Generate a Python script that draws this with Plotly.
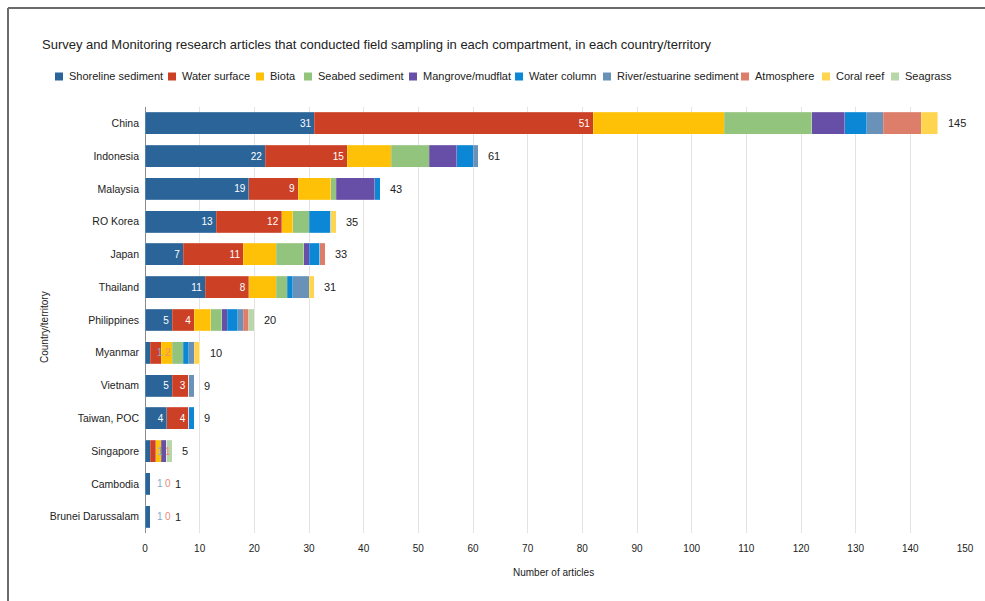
import plotly.graph_objects as go

# ---- data -------------------------------------------------------------
countries = ["China", "Indonesia", "Malaysia", "RO Korea", "Japan", "Thailand",
             "Philippines", "Myanmar", "Vietnam", "Taiwan, POC", "Singapore",
             "Cambodia", "Brunei Darussalam"]

shoreline_sediment = [31, 22, 19, 13, 7, 11, 5, 1, 5, 4, 1, 1, 1]
water_surface      = [51, 15, 9, 12, 11, 8, 4, 2, 3, 4, 1, 0, 0]
biota              = [24, 8, 6, 2, 6, 5, 3, 2, 0, 0, 1, 0, 0]
seabed_sediment    = [16, 7, 1, 3, 5, 2, 2, 2, 0, 0, 0, 0, 0]
mangrove_mudflat   = [6, 5, 7, 0, 1, 0, 1, 0, 0, 0, 1, 0, 0]
water_column       = [4, 3, 1, 4, 2, 1, 2, 1, 0, 1, 0, 0, 0]
river_estuarine    = [3, 1, 0, 0, 0, 3, 1, 1, 1, 0, 0, 0, 0]
atmosphere         = [7, 0, 0, 0, 1, 0, 1, 0, 0, 0, 0, 0, 0]
coral_reef         = [3, 0, 0, 1, 0, 1, 0, 1, 0, 0, 0, 0, 0]
seagrass           = [0, 0, 0, 0, 0, 0, 1, 0, 0, 0, 1, 0, 0]

series_names = ["Shoreline sediment", "Water surface", "Biota", "Seabed sediment",
                "Mangrove/mudflat", "Water column", "River/estuarine sediment",
                "Atmosphere", "Coral reef", "Seagrass"]
series_values = [shoreline_sediment, water_surface, biota, seabed_sediment,
                 mangrove_mudflat, water_column, river_estuarine, atmosphere,
                 coral_reef, seagrass]
x_ticks = list(range(0, 151, 10))

# ---- styling ----------------------------------------------------------
colors = ["#2b6498", "#cc4125", "#ffc107", "#93c47d", "#674ea7",
          "#0b87d6", "#6a92b9", "#dd7e6b", "#ffd54f", "#b6d7a8"]
label_out_colors = ["#7fa9d6", "#ee8b77"]   # labels drawn beside thin segments
FONT = "Liberation Sans, Arial, Helvetica, sans-serif"
TXT = "#222222"

W, H = 985, 601
ML, MR, MT, MB = 145, 20, 107, 68
PW, PH = W - ML - MR, H - MT - MB
XMAX = 150
PX_PER_UNIT = PW / XMAX


def px_x(px):
    return (px - ML) / PW


def px_y(py):
    return (H - MB - py) / PH


fig = go.Figure()

labelled = {0, 1}   # series that carry value labels
outside_rows = {}
for i, (name, vals, col) in enumerate(zip(series_names, series_values, colors)):
    text = None
    if i in labelled:
        text = []
        for r, v in enumerate(vals):
            if v * PX_PER_UNIT >= 14:
                text.append(str(v))
            else:
                text.append("")
                outside_rows.setdefault(r, []).append((i, v))
    fig.add_trace(go.Bar(
        name=name, y=countries, x=vals, orientation="h",
        marker=dict(color=col, line=dict(color="rgba(255,255,255,0.35)", width=0.5)),
        text=text, textposition="inside" if text else None,
        insidetextanchor="end", textangle=0,
        textfont=dict(family=FONT, size=10, color="white"),
        constraintext="none", cliponaxis=False,
        showlegend=False, hoverinfo="x+name+y",
    ))

annotations = []

# labels for segments too thin to hold their own value
for r, items in outside_rows.items():
    for i, v in items:
        shift = 15 if i == 0 else 23
        annotations.append(dict(
            x=0, y=countries[r], xref="x", yref="y", text=str(v),
            showarrow=False, xanchor="center", xshift=shift,
            font=dict(family=FONT, size=10, color=label_out_colors[i])))

# totals at the end of each bar
totals = [sum(s[r] for s in series_values) for r in range(len(countries))]
for r, t in enumerate(totals):
    start_px = t * PX_PER_UNIT + 8
    if r in outside_rows:
        start_px = max(start_px, 28)
    annotations.append(dict(
        x=0, y=countries[r], xref="x", yref="y", text=str(t),
        showarrow=False, xanchor="left", xshift=start_px,
        font=dict(family=FONT, size=11, color=TXT)))

# title and axis titles
annotations.append(dict(
    x=px_x(40), y=px_y(45), xref="paper", yref="paper", xanchor="left",
    yanchor="middle", showarrow=False,
    text="Survey and Monitoring research articles that conducted field sampling in each compartment, in each country/territory",
    font=dict(family=FONT, size=13, color=TXT)))
annotations.append(dict(
    x=px_x(44), y=px_y(327), xref="paper", yref="paper", textangle=-90,
    xanchor="center", yanchor="middle", showarrow=False,
    text="Country/territory", font=dict(family=FONT, size=10, color=TXT)))
annotations.append(dict(
    x=px_x(553), y=px_y(572), xref="paper", yref="paper",
    xanchor="center", yanchor="middle", showarrow=False,
    text="Number of articles", font=dict(family=FONT, size=10, color=TXT)))

# legend row
legend_swatch_px = [55, 168, 256, 304, 409, 515, 603, 741, 822, 891]
shapes = []
LEG_Y = 76.5
for name, col, sx in zip(series_names, colors, legend_swatch_px):
    shapes.append(dict(
        type="rect", xref="paper", yref="paper",
        x0=px_x(sx), x1=px_x(sx + 8), y0=px_y(LEG_Y + 4), y1=px_y(LEG_Y - 4),
        fillcolor=col, line=dict(width=0)))
    annotations.append(dict(
        x=px_x(sx + 12), y=px_y(LEG_Y), xref="paper", yref="paper",
        xanchor="left", yanchor="middle", showarrow=False, text=name,
        font=dict(family=FONT, size=11, color=TXT)))

# outer frame (top and left edges)
frame = dict(color="#6b6b6b", width=2)
shapes.append(dict(type="line", xref="paper", yref="paper",
                   x0=px_x(8), x1=px_x(990), y0=px_y(8), y1=px_y(8), line=frame))
shapes.append(dict(type="line", xref="paper", yref="paper",
                   x0=px_x(8), x1=px_x(8), y0=px_y(8), y1=px_y(605), line=frame))

fig.update_layout(
    width=W, height=H, barmode="stack", bargap=0.33,
    margin=dict(l=ML, r=MR, t=MT, b=MB, pad=0),
    paper_bgcolor="white", plot_bgcolor="white",
    font=dict(family=FONT, size=11, color=TXT),
    xaxis=dict(range=[0, XMAX], tickvals=x_ticks, ticktext=[str(v) for v in x_ticks],
               showgrid=True, gridcolor="#e3e3e3", gridwidth=1,
               zeroline=True, zerolinecolor="#8a8a8a", zerolinewidth=1,
               showline=False, ticks="", ticklabelstandoff=8,
               tickfont=dict(family=FONT, size=10, color=TXT), fixedrange=True),
    yaxis=dict(autorange="reversed", showgrid=False, zeroline=False, showline=False,
               ticks="", ticklabelstandoff=5,
               tickfont=dict(family=FONT, size=10.5, color=TXT), fixedrange=True),
    annotations=annotations, shapes=shapes,
)

fig.write_html("out.html")
